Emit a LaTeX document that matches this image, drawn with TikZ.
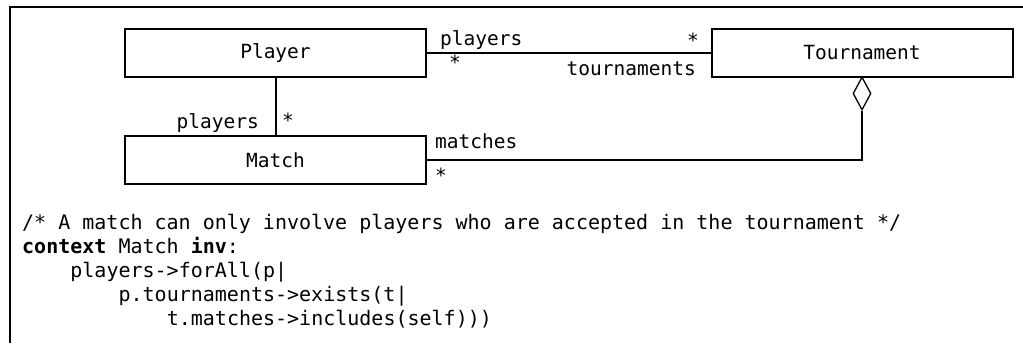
\documentclass[tikz,border=0pt]{standalone}
\usepackage{fontspec}
\setmonofont{DejaVu Sans Mono}
\usetikzlibrary{shapes.geometric}
\tikzset{
  cls/.style={draw, line width=2pt, minimum width=301pt, minimum height=48pt, inner sep=0pt, font=\ttfamily\fontsize{19.5}{19.5}\selectfont},
  conn/.style={line width=2pt},
  lbl/.style={inner sep=0pt, font=\ttfamily\fontsize{19.5}{19.5}\selectfont},
  code/.style={inner sep=0pt, anchor=base west, font=\ttfamily\fontsize{20}{20}\selectfont},
  aggdia/.style={draw, diamond, line width=1.3pt, minimum width=18pt, minimum height=33pt, inner sep=0pt, fill=white}
}
\begin{document}
\begin{tikzpicture}[x=1pt,y=-1pt]
\useasboundingbox (0,0) rectangle (1023,343);
% frame
\coordinate (ftr) at (1023,7);
\coordinate (ftl) at (10,7);
\coordinate (fbl) at (10,343);
\draw[line width=2.2pt] (ftr) -- (ftl) -- (fbl);
% classes
\node[cls] (player) at (275.5,53) {Player};
\node[cls] (tour) at (862,53) {Tournament};
\node[cls] (match) at (275.5,160) {Match};
\node[aggdia] (agg) at (862,93.5) {};
% connectors
\draw[conn] (player) -- (tour);
\draw[conn] (player) -- (match);
\draw[conn] (match.east) -| (agg.south);
% labels
\node[lbl, anchor=base west] (l1) at (440,45) {players};
\node[lbl, anchor=base] (l2) at (693,47) {*};
\node[lbl, anchor=base] (l3) at (455,69) {*};
\node[lbl, anchor=base east] (l4) at (696,75) {tournaments};
\node[lbl, anchor=base east] (l5) at (259,128) {players};
\node[lbl, anchor=base] (l6) at (288,127) {*};
\node[lbl, anchor=base west] (l7) at (435,148) {matches};
\node[lbl, anchor=base] (l8) at (441,182) {*};
% code
\node[code] (c1) at (22,229) {/* A match can only involve players who are accepted in the tournament */};
\node[code] (c2) at (22,253) {\textbf{context} Match \textbf{inv}:};
\node[code] (c3) at (70.2,277) {players->forAll(p|};
\node[code] (c4) at (118.4,301) {p.tournaments->exists(t|};
\node[code] (c5) at (166.6,325) {t.matches->includes(self)))};
\end{tikzpicture}
\end{document}
